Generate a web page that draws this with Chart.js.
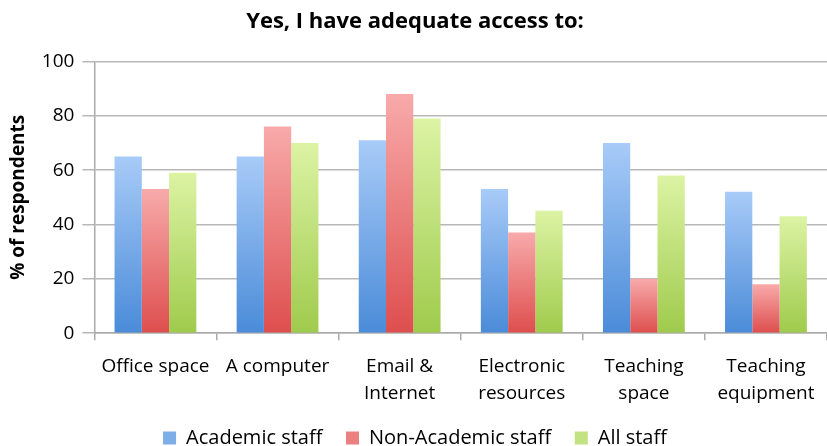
<!DOCTYPE html>
<html>
<head>
<meta charset="utf-8">
<script src="https://cdn.jsdelivr.net/npm/chart.js@4"></script>
<style>
  html, body { margin: 0; padding: 0; background: #fff; }
  #wrap { width: 827px; height: 446px; }
</style>
</head>
<body>
<div id="wrap"><canvas id="chart"></canvas></div>
<script>
const categories = ["Office space", "A computer", ["Email &", "Internet"], ["Electronic", "resources"], ["Teaching", "space"], ["Teaching", "equipment"]];
const academic = [65, 65, 71, 53, 70, 52];
const nonAcademic = [53, 76, 88, 37, 20, 18];
const allStaff = [59, 70, 79, 45, 58, 43];
const yTicks = [0, 20, 40, 60, 80, 100];

const FONT = "'Open Sans', 'DejaVu Sans', sans-serif";

// per-bar vertical gradient, light at the top of each bar
function grad(top, bottom) {
    return (ctx) => {
        const chart = ctx.chart;
        const area = chart.chartArea;
        if (!area || ctx.type !== 'data') return bottom;
        const yScale = chart.scales.y;
        const y0 = yScale.getPixelForValue(ctx.raw);
        const y1 = yScale.getPixelForValue(0);
        const g = chart.ctx.createLinearGradient(0, y0, 0, y1);
        g.addColorStop(0, top);
        g.addColorStop(1, bottom);
        return g;
    };
}

new Chart(document.getElementById('chart'), {
    type: 'bar',
    data: {
        labels: categories,
        datasets: [
            { label: 'Academic staff', data: academic, backgroundColor: grad('#a8cbf8', '#4a8bd8') },
            { label: 'Non-Academic staff', data: nonAcademic, backgroundColor: grad('#f8aaaa', '#de4e4e') },
            { label: 'All staff', data: allStaff, backgroundColor: grad('#dcf3a4', '#9fcb4c') }
        ]
    },
    options: {
        responsive: true,
        maintainAspectRatio: false,
        animation: false,
        layout: { padding: { left: 3, right: 0, top: 0, bottom: -12 } },
        datasets: { bar: { barPercentage: 1.0, categoryPercentage: 0.67 } },
        plugins: {
            title: {
                display: true,
                text: 'Yes, I have adequate access to:',
                color: '#000',
                font: { family: FONT, size: 22, weight: 'bold' },
                padding: { top: 9, bottom: 26 }
            },
            legend: {
                position: 'bottom',
                labels: {
                    color: '#000',
                    font: { family: FONT, size: 20 },
                    boxWidth: 13,
                    boxHeight: 13,
                    padding: 8,
                    generateLabels: (chart) => {
                        const cols = ['#7eaee8', '#ec7f7f', '#c3e383'];
                        const n = chart.data.datasets.length;
                        // trailing spaces widen the gap between legend items
                        return chart.data.datasets.map((ds, i) => ({
                            text: i < n - 1 ? ds.label + '   ' : ds.label,
                            fillStyle: cols[i], strokeStyle: cols[i], lineWidth: 0, datasetIndex: i
                        }));
                    }
                }
            },
            tooltip: { enabled: false }
        },
        scales: {
            x: {
                grid: { display: true, offset: true, drawOnChartArea: false, color: '#aaa', tickLength: 7, lineWidth: 1.5 },
                border: { color: '#aaa', width: 1.5 },
                ticks: { color: '#000', font: { family: FONT, size: 19, lineHeight: 1.47 }, maxRotation: 0, autoSkip: false, padding: 12 }
            },
            y: {
                min: 0,
                max: 100,
                afterBuildTicks: (axis) => { axis.ticks = yTicks.map(v => ({ value: v })); },
                grid: { color: '#b8b8b8', lineWidth: 1.5, tickLength: 12 },
                border: { color: '#aaa', width: 1.5 },
                ticks: { color: '#000', font: { family: FONT, size: 19 }, padding: 8 },
                title: {
                    display: true,
                    text: '% of respondents',
                    color: '#000',
                    font: { family: FONT, size: 19, weight: 'bold' },
                    padding: { bottom: 4 }
                }
            }
        }
    }
});
</script>
</body>
</html>
